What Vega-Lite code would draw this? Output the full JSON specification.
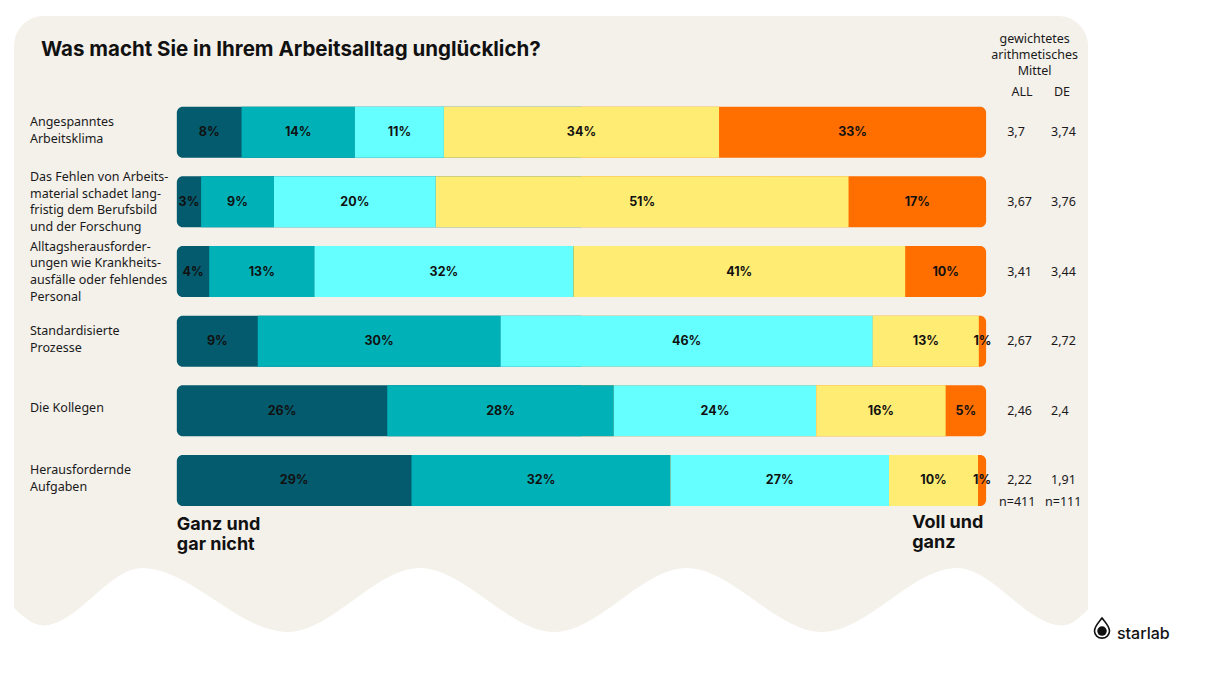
{
  "$schema": "https://vega.github.io/schema/vega-lite/v6.json",
  "width": 1074,
  "height": 624,
  "autosize": "none",
  "padding": {"left": 14, "top": 16, "right": 122, "bottom": 41},
  "background": "#ffffff",
  "config": {
    "view": {"fill": "#f4f0ea", "stroke": null, "cornerRadius": 30},
    "text": {"font": "Noto Sans", "color": "#1a1a1a"}
  },
  "datasets": {
    "segments": [
      {"rank": 1, "level": 1, "value": 8, "label": "8%"}, {"rank": 1, "level": 2, "value": 14, "label": "14%"}, {"rank": 1, "level": 3, "value": 11, "label": "11%"}, {"rank": 1, "level": 4, "value": 34, "label": "34%"}, {"rank": 1, "level": 5, "value": 33, "label": "33%"},
      {"rank": 2, "level": 1, "value": 3, "label": "3%"}, {"rank": 2, "level": 2, "value": 9, "label": "9%"}, {"rank": 2, "level": 3, "value": 20, "label": "20%"}, {"rank": 2, "level": 4, "value": 51, "label": "51%"}, {"rank": 2, "level": 5, "value": 17, "label": "17%"},
      {"rank": 3, "level": 1, "value": 4, "label": "4%"}, {"rank": 3, "level": 2, "value": 13, "label": "13%"}, {"rank": 3, "level": 3, "value": 32, "label": "32%"}, {"rank": 3, "level": 4, "value": 41, "label": "41%"}, {"rank": 3, "level": 5, "value": 10, "label": "10%"},
      {"rank": 4, "level": 1, "value": 10, "label": "9%"}, {"rank": 4, "level": 2, "value": 30, "label": "30%"}, {"rank": 4, "level": 3, "value": 46, "label": "46%"}, {"rank": 4, "level": 4, "value": 13.1, "label": "13%"}, {"rank": 4, "level": 5, "value": 0.9, "label": "1%"},
      {"rank": 5, "level": 1, "value": 26, "label": "26%"}, {"rank": 5, "level": 2, "value": 28, "label": "28%"}, {"rank": 5, "level": 3, "value": 25, "label": "24%"}, {"rank": 5, "level": 4, "value": 16, "label": "16%"}, {"rank": 5, "level": 5, "value": 5, "label": "5%"},
      {"rank": 6, "level": 1, "value": 29, "label": "29%"}, {"rank": 6, "level": 2, "value": 32, "label": "32%"}, {"rank": 6, "level": 3, "value": 27, "label": "27%"}, {"rank": 6, "level": 4, "value": 11, "label": "10%"}, {"rank": 6, "level": 5, "value": 1, "label": "1%"}
    ],
    "items": [
      {"rank": 1, "label": "Angespanntes\nArbeitsklima", "all": "3,7", "de": "3,74"},
      {"rank": 2, "label": "Das Fehlen von Arbeits-\nmaterial schadet lang-\nfristig dem Berufsbild\nund der Forschung", "all": "3,67", "de": "3,76"},
      {"rank": 3, "label": "Alltagsherausforder-\nungen wie Krankheits-\nausfälle oder fehlendes\nPersonal", "all": "3,41", "de": "3,44"},
      {"rank": 4, "label": "Standardisierte\nProzesse", "all": "2,67", "de": "2,72"},
      {"rank": 5, "label": "Die Kollegen", "all": "2,46", "de": "2,4"},
      {"rank": 6, "label": "Herausfordernde\nAufgaben", "all": "2,22", "de": "1,91"}
    ],
    "wave": [
      {"x": -0.215, "y": 7.66},
      {"x": -0.1642, "y": 8.08},
      {"x": -0.0432, "y": 7.257},
      {"x": 0.137, "y": 8.175},
      {"x": 0.300, "y": 7.257},
      {"x": 0.4667, "y": 8.175},
      {"x": 0.6296, "y": 7.257},
      {"x": 0.7975, "y": 8.175},
      {"x": 0.9642, "y": 7.257},
      {"x": 1.0938, "y": 8.08},
      {"x": 1.140, "y": 7.66}
    ]
  },
  "data": {"values": [{}]},
  "layer": [
    {
      "data": {"name": "wave"},
      "mark": {"type": "area", "interpolate": "monotone", "orient": "vertical", "color": "#ffffff"},
      "encoding": {
        "x": {"field": "x", "type": "quantitative", "axis": null, "scale": {"domain": [-0.2012, 1.1259], "nice": false, "zero": false}},
        "y": {"field": "y", "type": "quantitative", "axis": null, "scale": {"domain": [-0.596, 8.218], "reverse": true, "nice": false, "zero": false}},
        "y2": {"datum": 8.4}
      }
    },
    {
      "data": {"name": "items"},
      "mark": {"type": "bar", "orient": "horizontal", "size": 51, "cornerRadiusTopLeft": 6, "cornerRadiusBottomLeft": 6, "color": "#035b6d"},
      "encoding": {
        "x": {"datum": 0, "type": "quantitative", "axis": null},
        "x2": {"datum": 0.5},
        "y": {"field": "rank", "type": "quantitative", "axis": null}
      }
    },
    {
      "data": {"name": "items"},
      "mark": {"type": "bar", "orient": "horizontal", "size": 51, "cornerRadiusTopRight": 6, "cornerRadiusBottomRight": 6, "color": "#ff6f00"},
      "encoding": {
        "x": {"datum": 0.5, "type": "quantitative", "axis": null},
        "x2": {"datum": 1},
        "y": {"field": "rank", "type": "quantitative", "axis": null}
      }
    },
    {
      "data": {"name": "segments"},
      "mark": {"type": "bar", "orient": "horizontal", "size": 51},
      "encoding": {
        "x": {"field": "value", "type": "quantitative", "stack": "normalize", "axis": null},
        "y": {"field": "rank", "type": "quantitative", "axis": null},
        "order": {"field": "level", "type": "quantitative"},
        "color": {"field": "level", "type": "ordinal", "legend": null, "scale": {"domain": [1, 2, 3, 4, 5], "range": ["#035b6d", "#00b2b8", "#66ffff", "#ffec73", "#ff6f00"]}},
        "opacity": {"condition": {"test": "datum.level == 1 || datum.level == 5", "value": 0}, "value": 1}
      }
    },
    {
      "data": {"name": "segments"},
      "mark": {"type": "text", "font": "Inter", "fontWeight": "bold", "fontSize": 12.5, "color": "#111111", "baseline": "middle", "align": "center"},
      "encoding": {
        "x": {"field": "value", "type": "quantitative", "stack": "normalize", "bandPosition": 0.5, "axis": null},
        "y": {"field": "rank", "type": "quantitative", "axis": null},
        "order": {"field": "level", "type": "quantitative"},
        "detail": {"field": "level", "type": "ordinal"},
        "text": {"field": "label", "type": "nominal"}
      }
    },
    {
      "data": {"name": "items"},
      "transform": [{"filter": {"field": "rank", "oneOf": [1, 4, 6]}}],
      "mark": {"type": "text", "align": "left", "baseline": "middle", "fontSize": 12.5, "lineHeight": 17, "lineBreak": "\n", "dy": -10},
      "encoding": {
        "x": {"datum": -0.1815, "type": "quantitative", "axis": null},
        "y": {"field": "rank", "type": "quantitative", "axis": null},
        "text": {"field": "label", "type": "nominal"}
      }
    },
    {
      "data": {"name": "items"},
      "transform": [{"filter": {"field": "rank", "oneOf": [2, 3]}}],
      "mark": {"type": "text", "align": "left", "baseline": "middle", "fontSize": 12.5, "lineHeight": 16.8, "lineBreak": "\n", "dy": -25},
      "encoding": {
        "x": {"datum": -0.1815, "type": "quantitative", "axis": null},
        "y": {"field": "rank", "type": "quantitative", "axis": null},
        "text": {"field": "label", "type": "nominal"}
      }
    },
    {
      "data": {"name": "items"},
      "transform": [{"filter": {"field": "rank", "oneOf": [5]}}],
      "mark": {"type": "text", "align": "left", "baseline": "middle", "fontSize": 12.5, "dy": -3},
      "encoding": {
        "x": {"datum": -0.1815, "type": "quantitative", "axis": null},
        "y": {"field": "rank", "type": "quantitative", "axis": null},
        "text": {"field": "label", "type": "nominal"}
      }
    },
    {
      "data": {"name": "items"},
      "mark": {"type": "text", "align": "left", "baseline": "middle", "fontSize": 12.5},
      "encoding": {
        "x": {"datum": 1.026, "type": "quantitative", "axis": null},
        "y": {"field": "rank", "type": "quantitative", "axis": null},
        "text": {"field": "all", "type": "nominal"}
      }
    },
    {
      "data": {"name": "items"},
      "mark": {"type": "text", "align": "left", "baseline": "middle", "fontSize": 12.5},
      "encoding": {
        "x": {"datum": 1.0802, "type": "quantitative", "axis": null},
        "y": {"field": "rank", "type": "quantitative", "axis": null},
        "text": {"field": "de", "type": "nominal"}
      }
    },
    {
      "mark": {"type": "text", "align": "left", "baseline": "middle", "font": "Inter", "fontWeight": "bold", "fontSize": 20.5, "color": "#111111", "text": "Was macht Sie in Ihrem Arbeitsalltag unglücklich?"},
      "encoding": {
        "x": {"datum": -0.1679, "type": "quantitative", "axis": null},
        "y": {"datum": -0.175, "type": "quantitative", "axis": null}
      }
    },
    {
      "mark": {"type": "text", "align": "center", "baseline": "middle", "fontSize": 12.5, "lineHeight": 16, "text": ["gewichtetes", "arithmetisches", "Mittel"]},
      "encoding": {
        "x": {"datum": 1.060, "type": "quantitative", "axis": null},
        "y": {"datum": -0.342, "type": "quantitative", "axis": null}
      }
    },
    {
      "mark": {"type": "text", "align": "center", "baseline": "middle", "fontSize": 12.5, "text": "ALL"},
      "encoding": {
        "x": {"datum": 1.0444, "type": "quantitative", "axis": null},
        "y": {"datum": 0.421, "type": "quantitative", "axis": null}
      }
    },
    {
      "mark": {"type": "text", "align": "center", "baseline": "middle", "fontSize": 12.5, "text": "DE"},
      "encoding": {
        "x": {"datum": 1.0938, "type": "quantitative", "axis": null},
        "y": {"datum": 0.421, "type": "quantitative", "axis": null}
      }
    },
    {
      "mark": {"type": "text", "align": "left", "baseline": "middle", "fontSize": 12.5, "text": "n=411"},
      "encoding": {
        "x": {"datum": 1.016, "type": "quantitative", "axis": null},
        "y": {"datum": 6.311, "type": "quantitative", "axis": null}
      }
    },
    {
      "mark": {"type": "text", "align": "left", "baseline": "middle", "fontSize": 12.5, "text": "n=111"},
      "encoding": {
        "x": {"datum": 1.0728, "type": "quantitative", "axis": null},
        "y": {"datum": 6.311, "type": "quantitative", "axis": null}
      }
    },
    {
      "mark": {"type": "text", "align": "left", "baseline": "middle", "font": "Inter", "fontWeight": "bold", "fontSize": 18, "lineHeight": 20.5, "color": "#111111", "text": ["Ganz und", "gar nicht"]},
      "encoding": {
        "x": {"datum": 0, "type": "quantitative", "axis": null},
        "y": {"datum": 6.636, "type": "quantitative", "axis": null}
      }
    },
    {
      "mark": {"type": "text", "align": "left", "baseline": "middle", "font": "Inter", "fontWeight": "bold", "fontSize": 18, "lineHeight": 20.5, "color": "#111111", "text": ["Voll und", "ganz"]},
      "encoding": {
        "x": {"datum": 0.9086, "type": "quantitative", "axis": null},
        "y": {"datum": 6.607, "type": "quantitative", "axis": null}
      }
    },
    {
      "mark": {"type": "point", "shape": "M0,-1 C0.35,-0.55 0.75,-0.2 0.75,0.3 A0.75,0.7 0 1,1 -0.75,0.3 C-0.75,-0.2 -0.35,-0.55 0,-1 Z", "size": 400, "filled": false, "stroke": "#111111", "strokeWidth": 1.6, "opacity": 1},
      "encoding": {
        "x": {"datum": 1.1432, "type": "quantitative", "axis": null},
        "y": {"datum": 8.119, "type": "quantitative", "axis": null}
      }
    },
    {
      "mark": {"type": "point", "shape": "circle", "size": 90, "filled": true, "color": "#111111", "opacity": 1},
      "encoding": {
        "x": {"datum": 1.1432, "type": "quantitative", "axis": null},
        "y": {"datum": 8.161, "type": "quantitative", "axis": null}
      }
    },
    {
      "mark": {"type": "text", "align": "left", "baseline": "alphabetic", "font": "Inter", "fontWeight": 500, "fontSize": 16, "color": "#111111", "text": "starlab"},
      "encoding": {
        "x": {"datum": 1.1617, "type": "quantitative", "axis": null},
        "y": {"datum": 8.274, "type": "quantitative", "axis": null}
      }
    }
  ]
}
